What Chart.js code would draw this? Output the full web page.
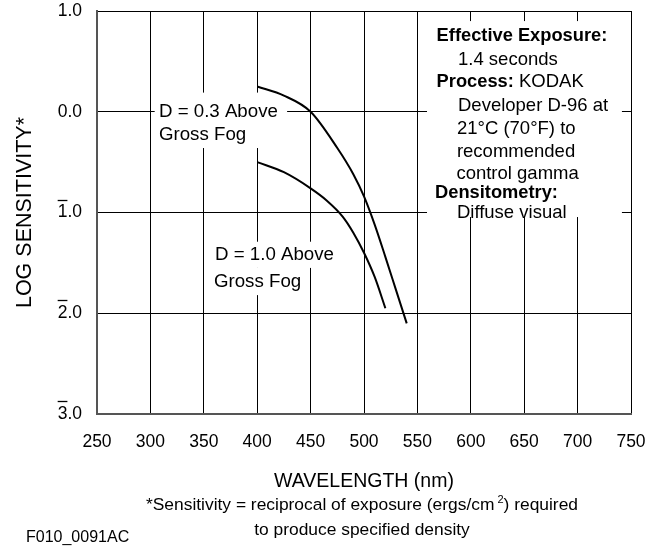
<!DOCTYPE html>
<html>
<head>
<meta charset="utf-8">
<script src="https://cdn.jsdelivr.net/npm/chart.js@4"></script>
<style>
  html, body { margin: 0; padding: 0; background: #fff; }
  #wrap { position: relative; width: 665px; height: 546px; font-family: "Liberation Sans", Arial, sans-serif; color: #000; }
  #myChart { position: absolute; left: 0; top: 0; }
  .note { position: absolute; left: 0; width: 724px; text-align: center; font-size: 17.4px; line-height: 25px; white-space: nowrap; }
  .note sup { font-size: 11px; vertical-align: 0; position: relative; top: -7px; margin-left: 3px; }
  #code { position: absolute; left: 26px; top: 527px; font-size: 16px; line-height: 20px; }
</style>
</head>
<body>
<div id="wrap">
  <canvas id="myChart" width="665" height="546"></canvas>
  <div class="note" style="top:492px">*Sensitivity = reciprocal of exposure (ergs/cm<sup>2</sup>) required</div>
  <div class="note" style="top:517px">to produce specified density</div>
  <div id="code">F010_0091AC</div>
</div>
<script>
const ctx = document.getElementById("myChart");
const FONT = '"Liberation Sans", Arial, sans-serif';

// wavelength (nm) and log sensitivity
const wavelengthD03 = [400, 425, 450, 475, 490, 500, 510, 520, 530, 540];
const sensitivityD03 = [0.25, 0.16, 0.0, -0.36, -0.62, -0.84, -1.12, -1.44, -1.77, -2.1];
const wavelengthD10 = [400, 425, 450, 465, 480, 490, 500, 510, 520];
const sensitivityD10 = [-0.5, -0.6, -0.76, -0.88, -1.04, -1.2, -1.4, -1.64, -1.95];

const xTicks = [250, 300, 350, 400, 450, 500, 550, 600, 650, 700, 750];
const yTicks = [1, 0, -1, -2, -3];

const toPoints = (xs, ys) => xs.map((x, i) => ({ x, y: ys[i] }));

// curve labels, placed in data units
const curveLabels = [
  { box: [304, 428, 0.19, -0.36], lines: [["D = 0.3 Above", 308, 0.0], ["Gross Fog", 308, -0.23]] },
  { box: [356.5, 477.5, -1.29, -1.55], lines: [["D = 1.0 Above", 360.5, -1.42]] },
  { box: [356.5, 446.5, -1.55, -1.82], lines: [["Gross Fog", 359.5, -1.69]] },
];

// conditions box: [bold part, regular part, x nm, y log]
const infoBox = [559, 741.5, 0.9, -1.045];
const infoLines = [
  ["Effective Exposure:", "", 568, 0.752],
  ["", "1.4 seconds", 588, 0.514],
  ["Process:", " KODAK", 568, 0.295],
  ["", "Developer D-96 at", 588, 0.062],
  ["", "21°C (70°F) to", 587, -0.171],
  ["", "recommended", 587, -0.397],
  ["", "control gamma", 586.5, -0.612],
  ["Densitometry:", "", 566.5, -0.809],
  ["", "Diffuse visual", 587, -1.008],
];

const labelsPlugin = {
  id: "labels",
  beforeDatasetsDraw(chart) {
    const c = chart.ctx;
    const xs = chart.scales.x;
    const ys = chart.scales.y;
    c.save();
    c.textBaseline = "middle";
    c.textAlign = "left";
    c.fillStyle = "#fff";
    for (const l of curveLabels) {
      const [x0, x1, y0, y1] = l.box;
      c.fillRect(xs.getPixelForValue(x0), ys.getPixelForValue(y0),
        xs.getPixelForValue(x1) - xs.getPixelForValue(x0), ys.getPixelForValue(y1) - ys.getPixelForValue(y0));
    }
    const [bx0, bx1, by0, by1] = infoBox;
    c.fillRect(xs.getPixelForValue(bx0), ys.getPixelForValue(by0),
      xs.getPixelForValue(bx1) - xs.getPixelForValue(bx0), ys.getPixelForValue(by1) - ys.getPixelForValue(by0));
    c.fillStyle = "#000";
    c.font = "18.7px " + FONT;
    for (const l of curveLabels) {
      for (const [t, x, y] of l.lines) c.fillText(t, xs.getPixelForValue(x), ys.getPixelForValue(y));
    }
    for (const [b, r, x, y] of infoLines) {
      let px = xs.getPixelForValue(x);
      const py = ys.getPixelForValue(y);
      if (b) {
        c.font = "bold 18.3px " + FONT;
        c.fillText(b, px, py);
        px += c.measureText(b).width;
      }
      if (r) {
        c.font = "18.5px " + FONT;
        c.fillText(r, px, py);
      }
    }
    c.restore();
  },
  afterDraw(chart) {
    // bar over the characteristic for negative logs
    const c = chart.ctx;
    const ys = chart.scales.y;
    c.save();
    c.font = "17.5px " + FONT;
    c.strokeStyle = "#000";
    c.lineWidth = 1.3;
    for (const v of yTicks) {
      if (v >= 0) continue;
      const label = Math.abs(v).toFixed(1);
      const right = ys.right - 15;
      const left = right - c.measureText(label).width;
      const w = c.measureText(label[0]).width;
      const y = Math.round(ys.getPixelForValue(v) - 13) + 0.5;
      c.beginPath();
      c.moveTo(left, y);
      c.lineTo(left + w, y);
      c.stroke();
    }
    c.restore();
  },
};

const config = {
  type: "line",
  data: {
    datasets: [
      {
        label: "D = 0.3 Above Gross Fog",
        data: toPoints(wavelengthD03, sensitivityD03),
        borderColor: "#000",
        borderWidth: 2,
        pointRadius: 0,
        cubicInterpolationMode: "monotone",
      },
      {
        label: "D = 1.0 Above Gross Fog",
        data: toPoints(wavelengthD10, sensitivityD10),
        borderColor: "#000",
        borderWidth: 2,
        pointRadius: 0,
        cubicInterpolationMode: "monotone",
      },
    ],
  },
  options: {
    responsive: false,
    animation: false,
    layout: { padding: { top: 11, right: 34, bottom: 52, left: 0 } },
    plugins: { legend: { display: false }, tooltip: { enabled: false } },
    scales: {
      x: {
        type: "linear",
        min: 250,
        max: 750,
        afterBuildTicks: (s) => { s.ticks = xTicks.map((value) => ({ value })); },
        afterFit: (s) => { s.height = 80; s.paddingLeft = 0; s.paddingRight = 0; },
        grid: { color: "#000", lineWidth: 1, drawTicks: false },
        border: { color: "#555", width: 2 },
        ticks: { color: "#000", padding: 18, font: { family: FONT, size: 17.5 } },
        title: {
          display: true,
          text: "WAVELENGTH (nm)",
          color: "#000",
          font: { family: FONT, size: 19.5 },
          padding: { top: 0, bottom: 1 },
        },
      },
      y: {
        min: -3,
        max: 1,
        afterBuildTicks: (s) => { s.ticks = yTicks.map((value) => ({ value })); },
        afterFit: (s) => { s.width = 97; s.paddingTop = 0; s.paddingBottom = 0; },
        grid: { color: "#000", lineWidth: 1, drawTicks: false },
        border: { color: "#555", width: 2 },
        ticks: {
          color: "#000",
          padding: 15,
          font: { family: FONT, size: 17.5 },
          callback: (v) => Math.abs(v).toFixed(1),
        },
        title: {
          display: true,
          text: "LOG SENSITIVITY*",
          color: "#000",
          font: { family: FONT, size: 21.5 },
          padding: { top: 12, bottom: 0 },
        },
      },
    },
  },
  plugins: [labelsPlugin],
};

new Chart(ctx, config);
</script>
</body>
</html>
